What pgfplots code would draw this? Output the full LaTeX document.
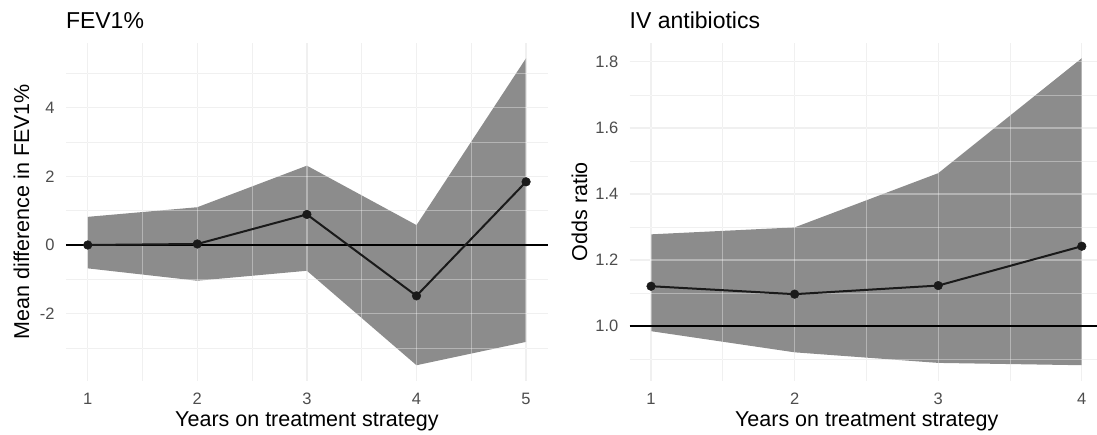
\documentclass[border=0pt]{standalone}
\usepackage{fontspec}
\setmainfont{Liberation Sans}
\usepackage{pgfplots}
\pgfplotsset{compat=1.18}
\definecolor{ribbonc}{HTML}{8C8C8C}
\definecolor{gridc}{HTML}{E8E8E8}
\definecolor{tickc}{HTML}{4D4D4D}
\definecolor{linec}{HTML}{1A1A1A}
\tikzset{
  gridover/.style={draw=white, opacity=0.35, line width=1.4pt},
  gridoverminor/.style={draw=white, opacity=0.35, line width=0.7pt},
}
\pgfplotsset{
  ggbase/.style={
    scale only axis, anchor=south west,
    axis line style={draw=none},
    major tick length=0pt, minor tick length=0pt,
    grid=both,
    major grid style={draw=gridc, line width=1.4pt},
    minor grid style={draw=gridc, line width=0.7pt},
    tick label style={font=\fontsize{16.5}{19}\selectfont, text=tickc},
    xticklabel style={anchor=base, yshift=-23.5pt, inner sep=0pt},
    yticklabel style={anchor=east, xshift=-11pt, inner sep=0pt},
    /pgf/number format/assume math mode=true,
  },
  dataline/.style={draw=linec, line width=2pt, mark=*, mark size=4.3pt, mark options={fill=linec, draw=linec, line width=0.5pt}},
}
\begin{document}
\begin{tikzpicture}
\useasboundingbox (0,0) rectangle (1097pt,435pt);
% ---------- Left panel: FEV1% ----------
\begin{axis}[ggbase,
  at={(65.8pt,54.4pt)}, width=482.2pt, height=337.8pt,
  xmin=0.8, xmax=5.2, ymin=-3.947, ymax=5.887,
  xtick={1,2,3,4,5}, xticklabels={1,2,3,4,5},
  minor xtick={1.5,2.5,3.5,4.5},
  ytick={-2,0,2,4}, yticklabels={-2,0,2,4},
  minor ytick={-3,-1,1,3,5},
]
\addplot[fill=ribbonc, draw=none] coordinates {
  (1,0.82) (2,1.10) (3,2.31) (4,0.58) (5,5.44)
  (5,-2.82) (4,-3.50) (3,-0.75) (2,-1.04) (1,-0.68)};
\pgfplotsinvokeforeach{1,2,3,4,5}{\draw[gridover] (axis cs:#1,-3.947) -- (axis cs:#1,5.887);}
\pgfplotsinvokeforeach{1.5,2.5,3.5,4.5}{\draw[gridoverminor] (axis cs:#1,-3.947) -- (axis cs:#1,5.887);}
\pgfplotsinvokeforeach{-2,0,2,4}{\draw[gridover] (axis cs:0.8,#1) -- (axis cs:5.2,#1);}
\pgfplotsinvokeforeach{-3,-1,1,3,5}{\draw[gridoverminor] (axis cs:0.8,#1) -- (axis cs:5.2,#1);}
\addplot[black, line width=2pt] coordinates {(0.8,0) (5.2,0)};
\addplot[dataline] coordinates {(1,0) (2,0.03) (3,0.89) (4,-1.48) (5,1.84)};
\end{axis}
% ---------- Right panel: IV antibiotics ----------
\begin{axis}[ggbase,
  at={(629.5pt,54.4pt)}, width=467.5pt, height=337.8pt,
  xmin=0.85, xmax=4.106, ymin=0.8355, ymax=1.8575,
  xtick={1,2,3,4}, xticklabels={1,2,3,4},
  minor xtick={1.5,2.5,3.5},
  ytick={1.0,1.2,1.4,1.6,1.8}, yticklabels={1.0,1.2,1.4,1.6,1.8},
  minor ytick={0.9,1.1,1.3,1.5,1.7},
]
\addplot[fill=ribbonc, draw=none] coordinates {
  (1,1.278) (2,1.299) (3,1.463) (4,1.811)
  (4,0.882) (3,0.889) (2,0.921) (1,0.985)};
\pgfplotsinvokeforeach{1,2,3,4}{\draw[gridover] (axis cs:#1,0.8355) -- (axis cs:#1,1.8575);}
\pgfplotsinvokeforeach{1.5,2.5,3.5}{\draw[gridoverminor] (axis cs:#1,0.8355) -- (axis cs:#1,1.8575);}
\pgfplotsinvokeforeach{1.0,1.2,1.4,1.6,1.8}{\draw[gridover] (axis cs:0.85,#1) -- (axis cs:4.106,#1);}
\pgfplotsinvokeforeach{0.9,1.1,1.3,1.5,1.7}{\draw[gridoverminor] (axis cs:0.85,#1) -- (axis cs:4.106,#1);}
\addplot[black, line width=2pt] coordinates {(0.85,1) (4.106,1)};
\addplot[dataline] coordinates {(1,1.121) (2,1.097) (3,1.123) (4,1.242)};
\end{axis}
% ---------- Titles and axis titles ----------
\node[anchor=base west, inner sep=0pt, font=\fontsize{23}{27}\selectfont] at (65.8pt,406.7pt) {FEV1\%};
\node[anchor=base west, inner sep=0pt, font=\fontsize{23}{27}\selectfont] at (629.5pt,406.7pt) {IV antibiotics};
\node[anchor=base, inner sep=0pt, font=\fontsize{21.5}{25}\selectfont] at (306.9pt,8pt) {Years on treatment strategy};
\node[anchor=base, inner sep=0pt, font=\fontsize{21.5}{25}\selectfont] at (866.7pt,8pt) {Years on treatment strategy};
\node[anchor=base, inner sep=0pt, rotate=90, font=\fontsize{21.5}{25}\selectfont] at (29pt,223.3pt) {Mean difference in FEV1\%};
\node[anchor=base, inner sep=0pt, rotate=90, font=\fontsize{21.5}{25}\selectfont] at (587pt,223.3pt) {Odds ratio};
\end{tikzpicture}
\end{document}
